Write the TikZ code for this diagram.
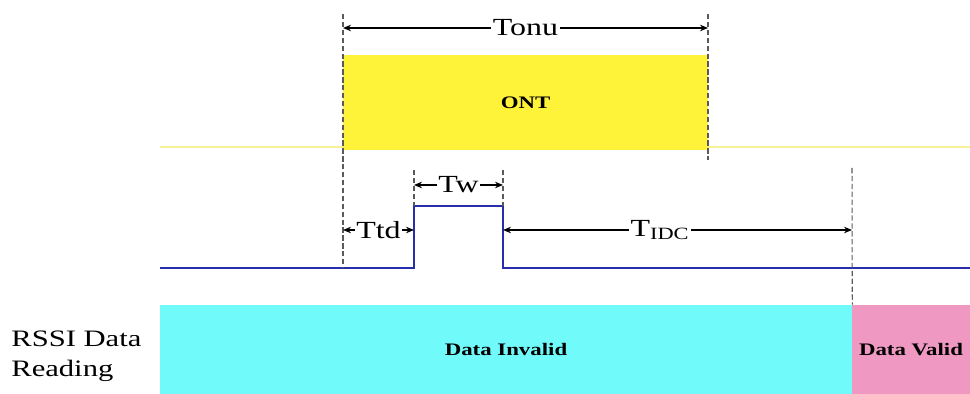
\documentclass[tikz,border=0pt]{standalone}
\usepackage{fontspec}
\setmainfont{Liberation Serif}
\newfontfamily\widefont[FakeStretch=1.3]{Liberation Serif}
\usetikzlibrary{arrows.meta,positioning,calc}
\definecolor{ontyellow}{RGB}{255,243,58}
\definecolor{lineyellow}{RGB}{246,240,150}
\definecolor{invalidcyan}{RGB}{112,250,250}
\definecolor{validpink}{RGB}{238,152,194}
\definecolor{signalblue}{RGB}{38,46,172}
\definecolor{markergray}{RGB}{90,90,90}
\tikzset{
  slot/.style={
    draw=none, inner sep=0pt, minimum height=1.78cm,
    font=\widefont\fontsize{10}{12}\selectfont\bfseries
  },
  marker/.style={dashed, dash pattern=on 3pt off 1.5pt, line width=.6pt, draw=markergray},
  span/.style={{Stealth[length=1.6mm,width=1.3mm]}-{Stealth[length=1.6mm,width=1.3mm]}, line width=.8pt},
  spanlabel/.style={fill=white, inner sep=1pt, font=\widefont\fontsize{14}{16}\selectfont},
  signal/.style={line width=1.1pt, draw=signalblue},
  ontline/.style={line width=1.1pt, draw=lineyellow}
}

\begin{document}
\begin{tikzpicture}[x=0.02cm,y=-0.02cm]
  \useasboundingbox (0,0) rectangle (970,394);

  % ONT burst window
  \node[slot, fill=ontyellow, minimum width=7.3cm, minimum height=1.9cm] (ont) at (525.5,102.5) {ONT};
  \coordinate (yl0) at (160,147);
  \coordinate (yl1) at (343,147);
  \coordinate (yl2) at (708,147);
  \coordinate (yl3) at (970,147);
  \draw[ontline] (yl0) -- (yl1);
  \draw[ontline] (yl2) -- (yl3);

  % RSSI trigger pulse
  \coordinate (s0) at (160,268);
  \coordinate (s1) at (414,268);
  \coordinate (s2) at (414,206);
  \coordinate (s3) at (503,206);
  \coordinate (s4) at (503,268);
  \coordinate (s5) at (970,268);
  \draw[signal] (s0) -- (s1) -- (s2) -- (s3) -- (s4) -- (s5);

  % RSSI data reading
  \node[slot, fill=invalidcyan, minimum width=13.84cm] (invalid) at (506,349.5) {Data Invalid};
  \node[slot, fill=validpink, minimum width=2.36cm] (valid) at (911,349.5) {Data Valid};
  \node[align=left, anchor=west, inner sep=0pt,
        font=\widefont\fontsize{13.4}{17}\selectfont] (rssi) at (11,356) {RSSI Data\\Reading};

  % Timing markers
  \coordinate (m0t) at (343,14);
  \coordinate (m1t) at (708,14);
  \coordinate (m1b) at (708,160);
  \coordinate (m2t) at (414,170);
  \coordinate (m3t) at (503,170);
  \coordinate (m4t) at (852,168);
  \draw[marker] (m0t) -- (s0 -| m0t);
  \draw[marker] (m1t) -- (m1b);
  \draw[marker] (m2t) -- (s2);
  \draw[marker] (m3t) -- (s3);
  \draw[marker] (m4t) -- (invalid.north east);

  % Durations
  \draw[span] (m0t |- 0,28) -- node[spanlabel] (tonu) {Tonu} (m1t |- 0,28);
  \draw[span] (m2t |- 0,185) -- node[spanlabel] (tw) {Tw} (m3t |- 0,185);
  \draw[span] (m0t |- 0,230) -- node[spanlabel] (ttd) {Ttd} (m2t |- 0,230);
  \draw[span] (m3t |- 0,230) -- node[spanlabel, pos=.45] (tidc) {T\textsubscript{IDC}} (m4t |- 0,230);
\end{tikzpicture}
\end{document}
